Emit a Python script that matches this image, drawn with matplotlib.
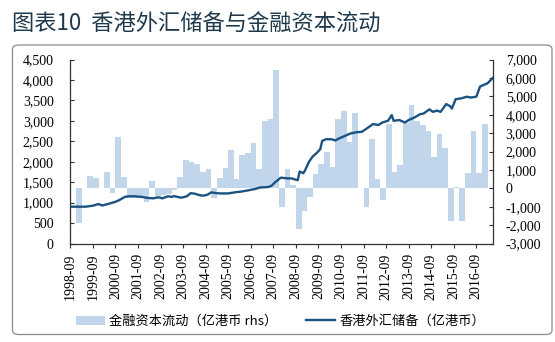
import matplotlib.pyplot as plt
import numpy as np
from matplotlib.patches import FancyBboxPatch

# quarterly financial capital flows (HK$100m, right axis), first quarter = 1998-09
flows = [np.nan, -1870, 30, 670, 580, 30, 890, -250, 2780, 615,
         -520, -520, -520, -760, 400, -400, -380, -300, -80, 640,
         1530, 1450, 1300, 870, 1040, -500, 580, 1120, 2090, 490,
         1810, 1920, 2440, 1030, 3660, 3760, 6430, -1030, 1030, 190,
         -2230, -1230, -450, 760, 1320, 1950, 1180, 3780, 4220, 2490,
         4110, 30, -1000, 2660, 490, -640, 3490, 880, 1280, 3550,
         4550, 3650, 3450, 3100, 1710, 2930, 2210, -1780, 60, -1780,
         815, 3090, 815, 3490, np.nan]

# FX reserves (HK$100m, left axis), months counted from 1998-09
res_month = [0, 8, 12, 15, 17, 20, 24, 26, 29, 31, 34, 38, 41, 44, 47, 49,
             52, 54, 55, 59, 62, 64, 66, 69, 71, 73, 75, 78, 80, 84, 86, 88,
             91, 94, 98, 101, 105, 107, 109, 112, 115, 118, 120, 121, 122, 124,
             125, 127, 129, 131, 133, 134, 136, 139, 141, 143, 147, 149, 152,
             155, 157, 161, 164, 166, 169, 171, 172, 175, 178, 180, 183, 186,
             188, 191, 193, 195, 197, 200, 202, 203, 205, 208, 211, 213, 216,
             218, 220, 222, 225]
reserves = [900, 900, 925, 965, 930, 965, 1020, 1060, 1140, 1155, 1155, 1140,
            1115, 1105, 1130, 1105, 1155, 1140, 1160, 1120, 1155, 1230, 1220,
            1180, 1170, 1195, 1250, 1230, 1225, 1225, 1240, 1255, 1270, 1295,
            1330, 1370, 1380, 1410, 1500, 1610, 1595, 1590, 1560, 1550, 1760,
            1720, 1800, 2000, 2130, 2210, 2310, 2510, 2550, 2550, 2520, 2570,
            2650, 2690, 2720, 2730, 2790, 2920, 2900, 2960, 3000, 3140, 3000,
            3020, 2960, 3020, 3080, 3160, 3180, 3280, 3220, 3250, 3220, 3410,
            3360, 3300, 3530, 3550, 3590, 3570, 3590, 3840, 3880, 3920, 4060]

year_labels = [f'{y}-09' for y in range(1998, 2017)]

plt.rcParams['font.family'] = 'serif'
plt.rcParams['font.serif'] = ['Liberation Serif', 'Times New Roman', 'DejaVu Serif']

fig = plt.figure(figsize=(5.55, 3.42), dpi=100)
ax = fig.add_axes([0.1267, 0.288, 0.762, 0.538])
ax2 = ax.twinx()

q = np.arange(len(flows))
bars = ax2.bar(q + 0.5, flows, width=1.0, color='#c2d6eb', linewidth=0)
line, = ax.plot(np.array(res_month) / 3, reserves, color='#1b5282', lw=1.7)

ax.set_zorder(ax2.get_zorder() + 1)
ax.patch.set_visible(False)

ax.set_xlim(0, 75)
ax.set_ylim(0, 4500)
ax2.set_ylim(-3000, 7000)
ax.set_yticks(range(0, 4501, 500))
ax2.set_yticks(range(-3000, 7001, 1000))
ax.yaxis.set_major_formatter(plt.FuncFormatter(lambda v, p: f'{v:,.0f}'))
ax2.yaxis.set_major_formatter(plt.FuncFormatter(lambda v, p: f'{v:,.0f}'))

ax.set_xticks(range(0, 73, 4))
ax.set_xticklabels(year_labels, rotation=90)

ax.tick_params(axis='x', direction='out', length=3, pad=4, labelsize=10, color='#333333')
ax.tick_params(axis='y', direction='in', length=3, pad=12, labelsize=10, color='#333333')
ax2.tick_params(axis='y', direction='in', length=3, pad=9, labelsize=10, color='#333333')

for s in ['top', 'right']:
    ax.spines[s].set_visible(False)
for s in ['top', 'left', 'bottom']:
    ax2.spines[s].set_visible(False)
for s in [ax.spines['left'], ax.spines['bottom'], ax2.spines['right']]:
    s.set_color('#333333')
    s.set_linewidth(0.9)

fig.legend([bars, line], ['金融资本流动（亿港币 rhs）', '香港外汇储备（亿港币）'],
           loc='center', bbox_to_anchor=(0.505, 0.06), ncol=2, frameon=False,
           prop={'family': ['Noto Sans CJK SC', 'DejaVu Sans'], 'size': 9.5},
           handlelength=2.2, columnspacing=2.2, handletextpad=0.3)

fig.text(12.5 / 555, 1 - 24 / 342, '图表10  香港外汇储备与金融资本流动',
         fontsize=16, color='#1f3a4d', va='center',
         family=['Noto Sans CJK SC', 'DejaVu Sans'])

frame = FancyBboxPatch((12.5 / 555, 1 - 334.5 / 342), (552 - 12.5) / 555, (334.5 - 45) / 342,
                       boxstyle='round,pad=0,rounding_size=0.012', transform=fig.transFigure,
                       fill=False, ec='#8a8a8a', lw=0.9)
fig.patches.append(frame)

fig.savefig('out.png', dpi=100)
